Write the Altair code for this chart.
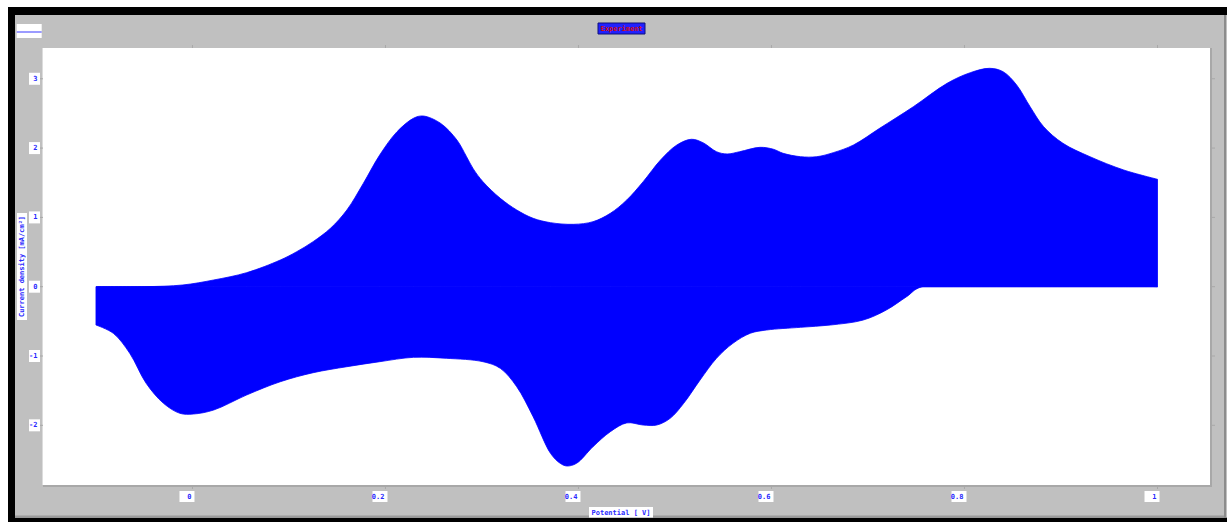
import altair as alt
import pandas as pd

# Forward sweep (anodic) of the voltammogram
fwd_potential = [-0.100, -0.050, -0.010, 0.022, 0.056, 0.091, 0.108, 0.125, 0.143, 0.160,
                 0.177, 0.194, 0.212, 0.229, 0.239, 0.257, 0.274, 0.284, 0.291, 0.301,
                 0.319, 0.336, 0.353, 0.371, 0.395, 0.415, 0.433, 0.450, 0.467, 0.485,
                 0.502, 0.517, 0.529, 0.543, 0.554, 0.567, 0.588, 0.602, 0.612, 0.630,
                 0.647, 0.664, 0.685, 0.712, 0.747, 0.782, 0.806, 0.826, 0.840, 0.854,
                 0.868, 0.882, 0.902, 0.930, 0.965, 1.000]
fwd_current = [0.000, 0.000, 0.025, 0.097, 0.202, 0.385, 0.505, 0.650, 0.843, 1.107,
               1.490, 1.900, 2.237, 2.430, 2.463, 2.358, 2.117, 1.876, 1.700, 1.515,
               1.275, 1.107, 0.987, 0.924, 0.900, 0.938, 1.059, 1.251, 1.515, 1.828,
               2.045, 2.127, 2.078, 1.948, 1.915, 1.948, 2.011, 1.983, 1.925, 1.876,
               1.876, 1.934, 2.045, 2.285, 2.597, 2.935, 3.088, 3.151, 3.102, 2.911,
               2.597, 2.309, 2.069, 1.876, 1.684, 1.550]

# Reverse sweep (cathodic)
rev_potential = [-0.100, -0.082, -0.065, -0.048, -0.030, -0.013, 0.001, 0.022, 0.056, 0.091,
                 0.125, 0.160, 0.194, 0.229, 0.263, 0.301, 0.319, 0.336, 0.353, 0.371,
                 0.381, 0.388, 0.398, 0.415, 0.433, 0.450, 0.467, 0.481, 0.495, 0.509,
                 0.526, 0.543, 0.560, 0.578, 0.595, 0.630, 0.661, 0.695, 0.719, 0.740,
                 0.756, 1.000]
rev_current = [-0.553, -0.673, -0.961, -1.394, -1.683, -1.827, -1.837, -1.779, -1.563, -1.371,
               -1.241, -1.154, -1.082, -1.019, -1.033, -1.082, -1.178, -1.443, -1.876, -2.404,
               -2.548, -2.587, -2.548, -2.309, -2.092, -1.965, -1.996, -1.996, -1.899, -1.683,
               -1.346, -1.033, -0.817, -0.672, -0.625, -0.586, -0.553, -0.481, -0.336, -0.144,
               0.000, 0.000]

x_ticks = [0, 0.2, 0.4, 0.6, 0.8, 1]
y_ticks = [-2, -1, 0, 1, 2, 3]

W, H = 1167, 437
BLUE_TXT = "#2a2aff"
GRID_GREY = "#a8a8a8"
FONT = "DejaVu Sans Mono"

scans = pd.concat([
    pd.DataFrame({"potential": fwd_potential, "current": fwd_current, "sweep": "forward"}),
    pd.DataFrame({"potential": rev_potential, "current": rev_current, "sweep": "reverse"}),
])
xt = pd.DataFrame({"v": x_ticks})
yt = pd.DataFrame({"v": y_ticks})
one = pd.DataFrame({"k": [0]})

x_scale = alt.Scale(domain=[-0.1549, 1.0544], nice=False, zero=False)
y_scale = alt.Scale(domain=[-2.861, 3.444], nice=False, zero=False)
X = lambda: alt.X("v:Q", scale=x_scale, axis=None)
Y = lambda: alt.Y("v:Q", scale=y_scale, axis=None)

# Each sweep filled down to zero current
area = alt.Chart(scans).mark_area(
    color="#0000ff", stroke="#0000ff", strokeWidth=0.8, interpolate="catmull-rom"
).encode(
    x=alt.X("potential:Q", scale=x_scale, axis=None),
    y=alt.Y("current:Q", scale=y_scale, axis=None, stack=None),
    y2=alt.datum(0),
    detail="sweep:N",
)


def box(x1, x2, y1, y2, color, **kw):
    return alt.Chart(one).mark_rect(color=color, **kw).encode(
        x=alt.value(x1), x2=alt.value(x2), y=alt.value(y1), y2=alt.value(y2))


def label(x, y, txt, color=BLUE_TXT, angle=0):
    return alt.Chart(one).mark_text(font=FONT, fontSize=7, fontWeight="bold", color=color,
                                    angle=angle, align="center", baseline="middle").encode(
        x=alt.value(x), y=alt.value(y), text=alt.value(txt))


# frame: outer margin, black border, bevel lines, plot edges
frame = [
    box(-43, -35, -48, 474, "white"),
    box(-43, 1184, -48, -41, "white"),
    box(-35, -28, -41, 474, "black"),
    box(-35, 1184, -41, -33, "black"),
    box(-35, 1184, 469.7, 474, "black"),
    box(1181, 1183, -33, 470, "#8c8c8c"),
    box(-28, 1181, 467.5, 469.7, "#9a9a9a"),
    box(W, W + 2, 0, H + 2, GRID_GREY),
    box(0, W + 2, H, H + 2, GRID_GREY),
    box(-1, 0, 0, H, "#dcdcdc"),
]

# tick marks on all four edges
ticks = [
    alt.Chart(xt).mark_rule(color=GRID_GREY).encode(x=X(), y=alt.value(-3), y2=alt.value(0)),
    alt.Chart(xt).mark_rule(color=GRID_GREY).encode(x=X(), y=alt.value(H), y2=alt.value(H + 4)),
    alt.Chart(yt).mark_rule(color=GRID_GREY).encode(y=Y(), x=alt.value(W + 2), x2=alt.value(W + 5)),
    alt.Chart(yt).mark_rule(color=GRID_GREY).encode(y=Y(), x=alt.value(-3), x2=alt.value(0)),
]

# tick labels on white plates
x_labels = [
    alt.Chart(xt).mark_rect(color="white", xOffset=-13, x2Offset=2).encode(
        x=X(), x2="v:Q", y=alt.value(443), y2=alt.value(454)),
    alt.Chart(xt).transform_calculate(lab="'' + datum.v").mark_text(
        font=FONT, fontSize=7, fontWeight="bold", color=BLUE_TXT,
        align="right", baseline="middle", dx=-1).encode(
        x=X(), y=alt.value(448.5), text="lab:N"),
]
y_labels = [
    alt.Chart(yt).mark_rect(color="white", yOffset=-6, y2Offset=6).encode(
        y=Y(), y2="v:Q", x=alt.value(-14), x2=alt.value(-3)),
    alt.Chart(yt).transform_calculate(lab="'' + datum.v").mark_text(
        font=FONT, fontSize=7, fontWeight="bold", color=BLUE_TXT,
        align="right", baseline="middle").encode(
        y=Y(), x=alt.value(-5.5), text="lab:N"),
]

# legend swatch, header and axis titles
legend = [
    box(-26.3, -1.3, -24, -10, "white"),
    alt.Chart(one).mark_rule(color="#7a7aff", strokeWidth=1.5).encode(
        x=alt.value(-26.3), x2=alt.value(-1.3), y=alt.value(-16)),
]
header = [
    box(555, 602, -25, -14, "#2020ff", stroke="#10107a", strokeWidth=1),
    label(578.5, -19.5, "Experiment", color="#d01010"),
]
titles = [
    box(546, 610, 459, 469.5, "white"),
    label(578, 464.5, "Potential [ V]"),
    box(-26, -16, 165, 272, "white"),
    label(-21, 218.5, "Current density [mA/cm²]", angle=270),
]

chart = alt.layer(
    *frame, *ticks, area, *x_labels, *y_labels, *legend, *header, *titles
).properties(
    width=W, height=H, autosize="none",
    padding={"left": 43, "top": 48, "right": 17, "bottom": 37},
    background="#c0c0c0",
).configure_view(fill="white", strokeWidth=0)

chart.save("out.html", embed_options={"renderer": "svg", "actions": False})
